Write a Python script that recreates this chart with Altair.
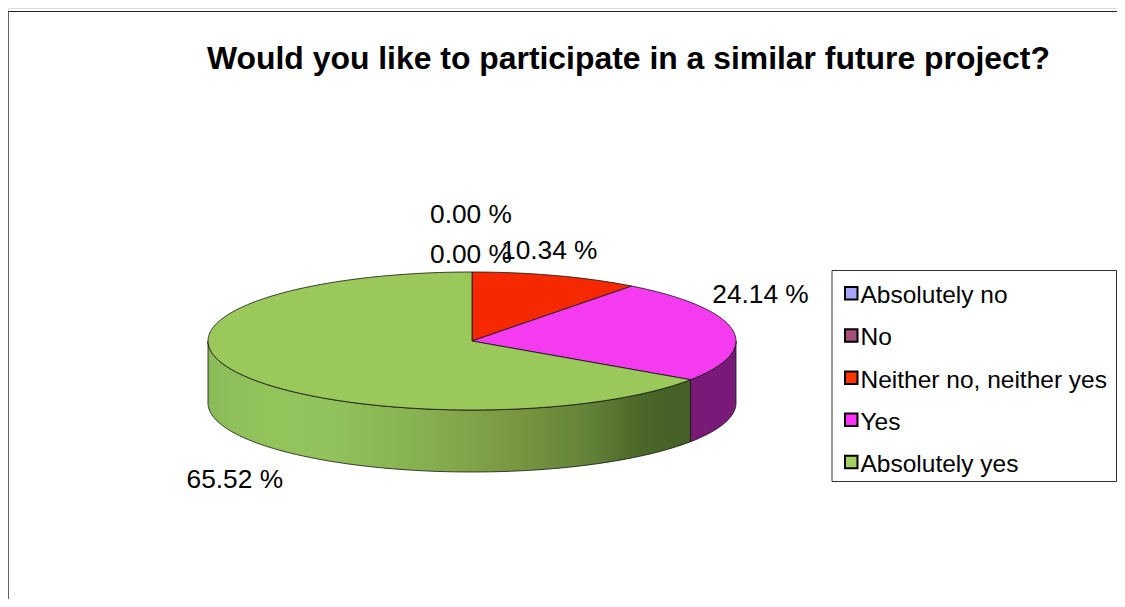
import math
import altair as alt
import pandas as pd

# ---- data
categories = ["Absolutely no", "No", "Neither no, neither yes", "Yes", "Absolutely yes"]
shares = [0.00, 0.00, 10.34, 24.14, 65.52]
labels = ["0.00 %", "0.00 %", "10.34 %", "24.14 %", "65.52 %"]
legend_colors = ["#a6a6ff", "#a64d79", "#ff3300", "#ff33ff", "#a3d164"]
top_colors = ["#a6a6ff", "#a64d79", "#f52800", "#f43bef", "#9bc85a"]
title_text = "Would you like to participate in a similar future project?"

# ---- layout (page pixels)
W, H = 1109, 591
CX, CY, RX, RY, DEPTH = 472, 341, 264, 69, 62
FONT = "Liberation Sans"
# label placement relative to each slice's mid-rim point
label_offsets = [(-1, -57), (-1, -17), (-7, -25), (28, -35), (-4, 107)]
legend_box = {"x": 832, "x2": 1116.5, "y": 270.5, "y2": 481.5}

xs = alt.Scale(domain=[8, 8 + W])
ys = alt.Scale(domain=[8 + H, 8])


def rim(deg, drop=0.0):
    t = math.radians(deg)
    return CX + RX * math.sin(t), CY - RY * math.cos(t) + drop


def arc_degs(a0, a1, step=1.0):
    n = max(1, int(abs(a1 - a0) / step))
    return [a0 + (a1 - a0) * i / n for i in range(n + 1)]


def polygon(points):
    return pd.DataFrame([{"x": x, "y": y, "i": i} for i, (x, y) in enumerate(points)])


def filled(points, fill, width=0.8):
    return alt.Chart(polygon(points)).mark_line(
        interpolate="linear-closed", fill=fill, stroke="#111111", strokeWidth=width
    ).encode(
        x=alt.X("x:Q", scale=xs, axis=None),
        y=alt.Y("y:Q", scale=ys, axis=None),
        order="i:Q",
    )


edges = [0.0]
for s in shares:
    edges.append(edges[-1] + s * 3.6)

layers = []

# walls of the visible front of the pie
green_wall = alt.Gradient(
    gradient="linear", x1=0, x2=1, y1=0, y2=0,
    stops=[
        alt.GradientStop(offset=0.0, color="#8bbb58"),
        alt.GradientStop(offset=0.12, color="#93c45c"),
        alt.GradientStop(offset=0.25, color="#92c25c"),
        alt.GradientStop(offset=0.40, color="#88b552"),
        alt.GradientStop(offset=0.52, color="#84a64b"),
        alt.GradientStop(offset=0.65, color="#75953f"),
        alt.GradientStop(offset=0.78, color="#65843a"),
        alt.GradientStop(offset=0.90, color="#4a6628"),
        alt.GradientStop(offset=1.0, color="#445f27"),
    ],
)
wall_parts = [(90.0, edges[4], "#7a1a78"), (edges[4], 270.0, green_wall)]
for a0, a1, fill in wall_parts:
    top = [rim(a) for a in arc_degs(a0, a1)]
    bottom = [rim(a, DEPTH) for a in arc_degs(a1, a0)]
    layers.append(filled(top + bottom, fill))

# top face slices
for k in range(len(shares)):
    pts = [(CX, CY)] + [rim(a) for a in arc_degs(edges[k], edges[k + 1])]
    layers.append(filled(pts, top_colors[k]))

# percentage labels
mids = [(edges[k] + edges[k + 1]) / 2 for k in range(len(shares))]
label_df = pd.DataFrame({
    "x": [rim(m)[0] + d[0] for m, d in zip(mids, label_offsets)],
    "y": [rim(m)[1] + d[1] for m, d in zip(mids, label_offsets)],
    "t": labels,
})
layers.append(
    alt.Chart(label_df).mark_text(font=FONT, fontSize=26.3, color="#000000", align="center", baseline="middle")
    .encode(x=alt.X("x:Q", scale=xs, axis=None), y=alt.Y("y:Q", scale=ys, axis=None), text="t:N")
)

# legend frame
layers.append(
    alt.Chart(pd.DataFrame([legend_box])).mark_rect(fill="#ffffff", stroke="#333333", strokeWidth=1).encode(
        x=alt.X("x:Q", scale=xs, axis=None), x2="x2:Q",
        y=alt.Y("y:Q", scale=ys, axis=None), y2="y2:Q",
    )
)

# carrier of the legend
legend_df = pd.DataFrame({"c": categories, "x": [CX] * 5, "y": [CY] * 5})
layers.append(
    alt.Chart(legend_df).mark_square(size=0).encode(
        x=alt.X("x:Q", scale=xs, axis=None),
        y=alt.Y("y:Q", scale=ys, axis=None),
        color=alt.Color(
            "c:N",
            scale=alt.Scale(domain=categories, range=legend_colors),
            legend=alt.Legend(
                title=None, orient="none", legendX=821, legendY=267, padding=9,
                symbolType="M-0.52,-1.48H1.48V0.52H-0.52Z", symbolSize=156, symbolStrokeColor="#000000",
                symbolStrokeWidth=2, symbolOpacity=1,
                labelFont=FONT, labelFontSize=24.5, labelColor="#000000", labelLimit=400,
                rowPadding=17.2, labelOffset=0, symbolOffset=-2,
            ),
        ),
    )
)

# frame
frame_df = pd.DataFrame({"k": ["top"]})
layers.append(alt.Chart(frame_df).mark_rule(color="#222222", strokeWidth=1).encode(
    x=alt.value(0), x2=alt.value(W), y=alt.value(3.5)))
layers.append(alt.Chart(frame_df).mark_rule(color="#444444", strokeWidth=1.6).encode(
    x=alt.value(0), y=alt.value(3.5), y2=alt.value(H)))

chart = alt.layer(*layers).properties(
    width=W, height=H, padding=0, autosize=alt.AutoSizeParams(type="none"),
    title=alt.TitleParams(
        text=title_text, font=FONT, fontSize=31.9, fontWeight="bold", color="#000000",
        anchor="start", frame="group", dx=199, dy=68, offset=0,
    ),
).configure_view(stroke=None).configure(background="#ffffff")

chart.save("out.html", embed_options={"renderer": "svg", "actions": False})
